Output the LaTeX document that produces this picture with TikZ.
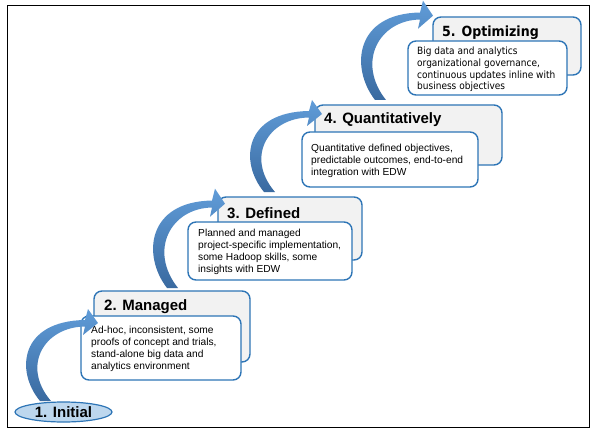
\documentclass[tikz,border=0pt]{standalone}
\usepackage{fontspec}
\setmainfont{Liberation Sans}
\newfontfamily\tahomalike[FakeStretch=0.9]{DejaVu Sans}
\usetikzlibrary{shapes.geometric}
\definecolor{boxblue}{RGB}{46,117,182}
\definecolor{backgray}{RGB}{242,242,242}
\definecolor{initfill}{RGB}{189,215,238}
\definecolor{arrowlight}{RGB}{96,156,216}
\definecolor{arrowdark}{RGB}{58,106,160}
\begin{document}
\begin{tikzpicture}[x=1pt,y=-1pt,
  backbox/.style={draw=boxblue, line width=1.4pt, fill=backgray, rounded corners=8pt, inner sep=0},
  frontbox/.style={draw=boxblue, line width=1.4pt, fill=white, rounded corners=8pt, inner sep=0},
  stagetitle/.style={font=\fontsize{15}{18}\selectfont\bfseries, anchor=west, inner sep=0},
  stagebody/.style={font=\fontsize{10.2}{12}\selectfont, align=left, anchor=north west, inner sep=0},
  stagearrow/.pic={
    \shade[top color=arrowlight, bottom color=arrowdark]
      (-5,0) .. controls (-30,-30) and (-25,-80) .. (40,-81)
      -- (43,-92) -- (53,-78) -- (38,-66) -- (40,-74.5)
      .. controls (-1,-74) and (-24,-35) .. (6,0) -- cycle;
  }
]
\useasboundingbox (0,0) rectangle (597,433);
\node[draw, line width=1pt, minimum width=582pt, minimum height=421pt, inner sep=0] (frame) at (298,216.5) {};

% stage 1
\node[ellipse, draw=boxblue, line width=1.2pt, fill=initfill, minimum width=97pt, minimum height=20pt, inner sep=0,
      font=\fontsize{15}{18}\selectfont\bfseries] (initial) at (63.5,412) {1. Initial};

% stage 2
\node[backbox, minimum width=156pt, minimum height=71pt] (back2) at (172,326.5) {};
\node[frontbox, minimum width=160pt, minimum height=64pt] (front2) at (161,348) {};
\node[stagetitle] (title2) at (104,307) {2. Managed};
\node[stagebody] (body2) at (91,326) {Ad-hoc, inconsistent, some\\proofs of concept and trials,\\stand-alone big data and\\analytics environment};

% stage 3
\node[backbox, minimum width=144pt, minimum height=63pt] (back3) at (290,228.5) {};
\node[frontbox, minimum width=164pt, minimum height=58pt] (front3) at (270,251) {};
\node[stagetitle] (title3) at (227,213) {3. Defined};
\node[stagebody] (body3) at (198,229) {Planned and managed\\project-specific implementation,\\some Hadoop skills, some\\insights with EDW};

% stage 4
\node[backbox, minimum width=187pt, minimum height=60pt] (back4) at (408.5,135) {};
\node[frontbox, minimum width=176pt, minimum height=55pt] (front4) at (390,159.5) {};
\node[stagetitle] (title4) at (324,120) {4. Quantitatively};
\node[stagebody] (body4) at (311,144) {Quantitative defined objectives,\\predictable outcomes, end-to-end\\integration with EDW};

% stage 5
\node[backbox, minimum width=148pt, minimum height=58pt] (back5) at (507,46) {};
\node[frontbox, minimum width=159pt, minimum height=54pt] (front5) at (487.5,68) {};
\node[stagetitle, font=\tahomalike\fontsize{14}{17}\selectfont\bfseries] (title5) at (442,33) {5. Optimizing};
\node[stagebody, font=\tahomalike\fontsize{10}{11.7}\selectfont] (body5) at (417,47) {Big data and analytics\\organizational governance,\\continuous updates inline with\\business objectives};

% arrows
\pic (arr1) at (45,401) {stagearrow};
\pic[yscale=1.08] (arr2) at (172,288) {stagearrow};
\pic (arr3) at (269,192) {stagearrow};
\pic[yscale=1.08] (arr4) at (380,100) {stagearrow};
\end{tikzpicture}
\end{document}
